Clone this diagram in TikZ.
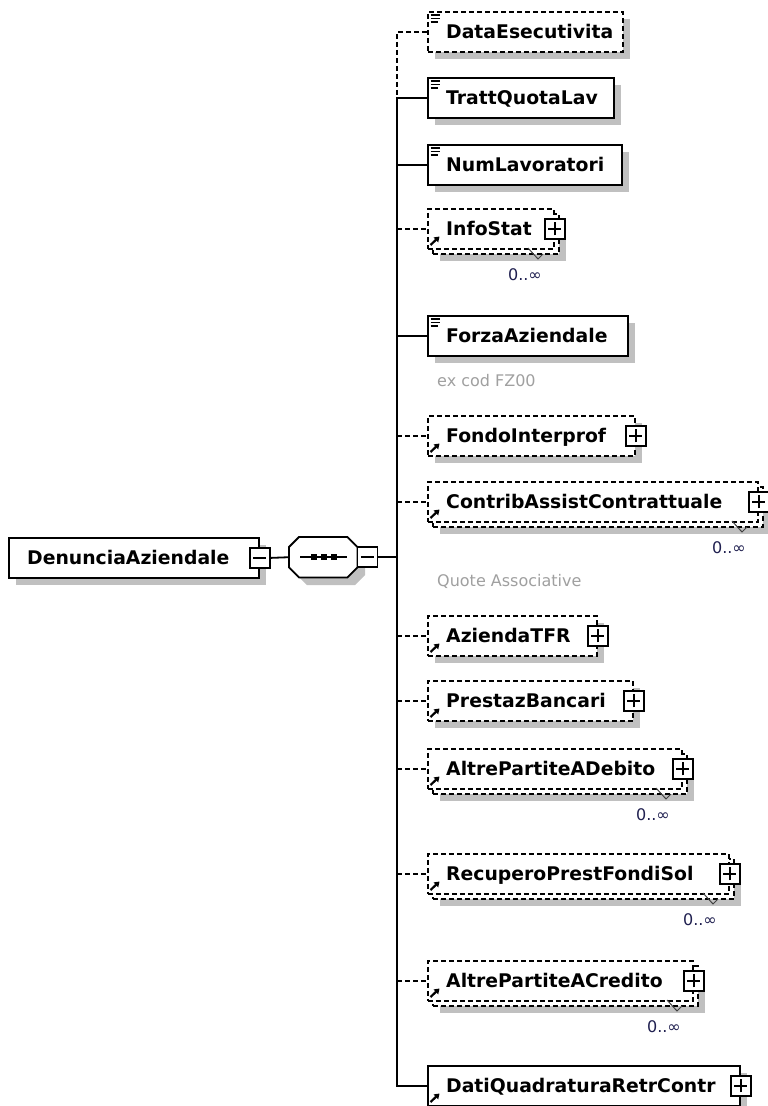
\documentclass[tikz,border=0pt]{standalone}
\usepackage{fontspec}
\setmainfont{DejaVu Sans}
\usetikzlibrary{arrows.meta}
\definecolor{shadowc}{HTML}{C0C0C0}
\definecolor{annot}{HTML}{A0A0A0}
\definecolor{occ}{HTML}{202050}
\tikzset{
  box/.style={draw=black, fill=white, line width=1.8pt, rectangle, inner sep=0pt, minimum height=40pt},
  dashedline/.style={dash pattern=on 5pt off 3pt},
  conn/.style={line width=1.8pt},
  lbl/.style={font=\fontsize{18.8}{20}\selectfont\bfseries, inner sep=0pt, text=black},
  occlbl/.style={font=\fontsize{16}{18}\selectfont, inner sep=0pt, text=occ},
  annlbl/.style={font=\fontsize{16}{18}\selectfont, inner sep=0pt, text=annot},
  pmbox/.style={draw=black, fill=white, line width=1.5pt, rectangle, minimum size=20pt, inner sep=0pt},
  refarrow/.style={line width=2.2pt, -{Triangle[length=5pt,width=6.5pt]}},
  notch/.style={line width=1pt, black!75},
}
% plus / minus boxes
\newcommand\xplus[2]{%
  \node[pmbox] (#1) at (#2) {};
  \draw[line width=1.5pt] ([xshift=-6.5pt]#1.center) -- ([xshift=6.5pt]#1.center);
  \draw[line width=1.5pt] ([yshift=-6.5pt]#1.center) -- ([yshift=6.5pt]#1.center);
}
\newcommand\xminus[2]{%
  \node[pmbox] (#1) at (#2) {};
  \draw[line width=1.5pt] ([xshift=-6.5pt]#1.center) -- ([xshift=6.5pt]#1.center);
}
% simple-type element: name, top, right, label, border style
\newcommand\xsimple[5]{%
  \fill[shadowc] (435,#2+8) rectangle (#3+8,#2+48);
  \node[box,#5,minimum width={#3-427},anchor=north west] (#1) at (427,#2) {};
  \draw[line width=1.2pt] (430.5,#2+4) -- (440,#2+4) (430.5,#2+7.5) -- (440,#2+7.5) (430.5,#2+11) -- (438,#2+11);
  \node[lbl,anchor=base west] (#1-t) at (446,#2+27) {#4};
}
% complex-type element: name, top, right, label, border style
\newcommand\xcomplex[5]{%
  \fill[shadowc] (435,#2+8) rectangle (#3+8,#2+48);
  \node[box,#5,minimum width={#3-427},anchor=north west] (#1) at (427,#2) {};
  \draw[refarrow] (430.5,#2+37) -- (439.5,#2+28.5);
  \node[lbl,anchor=base west] (#1-t) at (446,#2+27) {#4};
  \xplus{#1-p}{#1.east}
}
% optional complex element with multiple occurrences: name, top, right, label
\newcommand\xmulti[4]{%
  \fill[shadowc] (440,#2+13) rectangle (#3+13,#2+53);
  \node[box,dashedline,minimum width={#3-427},anchor=north west] (#1-b) at (432,#2+5) {};
  \node[box,dashedline,minimum width={#3-427},anchor=north west] (#1) at (427,#2) {};
  \draw[notch] (#3-25,#2+40) -- (#3-15,#2+51) -- (#3-10,#2+46);
  \draw[refarrow] (430.5,#2+37) -- (439.5,#2+28.5);
  \node[lbl,anchor=base west] (#1-t) at (446,#2+27) {#4};
  \xplus{#1-p}{#1.east}
  \node[occlbl,anchor=base east] (#1-o) at (#3-11,#2+72) {0..∞};
}
\begin{document}
\begin{tikzpicture}[x=1pt,y=-1pt]
\useasboundingbox[fill=white] (0,0) rectangle (768,1106);

% root element
\fill[shadowc] (16,545) rectangle (266,585);
\node[box,minimum width=250pt,anchor=north west] (root) at (8,537) {};
\node[lbl,anchor=base west] (root-t) at (27,564) {DenunciaAziendale};
\xminus{root-m}{root.east}

% sequence compositor
\fill[shadowc] (307,545) -- (337,545) -- (365,555) -- (365,575) -- (355,585) -- (307,585) -- (297,575) -- (297,555) -- cycle;
\node[rectangle,minimum width=68pt,minimum height=40pt,inner sep=0pt,anchor=north west] (seq) at (289,537) {};
\fill[white,draw=black,line width=1.8pt]
  ([xshift=10pt]seq.north west) -- ([xshift=-10pt]seq.north east) -- ([yshift=-10pt]seq.north east)
  -- ([yshift=10pt]seq.south east) -- ([xshift=-10pt]seq.south east) -- ([xshift=10pt]seq.south west)
  -- ([yshift=10pt]seq.south west) -- ([yshift=-10pt]seq.north west) -- cycle;
\draw[line width=1.6pt] (300,557) -- (347,557);
\fill (310.5,554) rectangle (316.5,560);
\fill (320.5,554) rectangle (326.5,560);
\fill (330.5,554) rectangle (336.5,560);
\xminus{seq-m}{[xshift=10pt]seq.east}

% children
\xsimple{e1}{11}{622}{DataEsecutivita}{dashedline}
\xsimple{e2}{77}{613}{TrattQuotaLav}{solid}
\xsimple{e3}{144}{621}{NumLavoratori}{solid}
\xmulti{e4}{208}{553}{InfoStat}
\xsimple{e5}{315}{627}{ForzaAziendale}{solid}
\node[annlbl,anchor=base west] (a5) at (437,386) {ex cod FZ00};
\xcomplex{e6}{415}{634}{FondoInterprof}{dashedline}
\xmulti{e7}{481}{757}{ContribAssistContrattuale}
\node[annlbl,anchor=base west] (a7) at (437,586) {Quote Associative};
\xcomplex{e8}{615}{596}{AziendaTFR}{dashedline}
\xcomplex{e9}{680}{632}{PrestazBancari}{dashedline}
\xmulti{e10}{748}{681}{AltrePartiteADebito}
\xmulti{e11}{853}{728}{RecuperoPrestFondiSol}
\xmulti{e12}{960}{692}{AltrePartiteACredito}
\xcomplex{e13}{1065}{739}{DatiQuadraturaRetrContr}{solid}

% connectors
\coordinate (sp) at (397,97);
\draw[conn] (root-m.east) -- (seq.west);
\draw[conn] (seq-m.east) -- (seq-m.east -| sp);
\draw[conn,dashedline] (e1.west) -| (sp);
\draw[conn] (sp) |- (e13.west);
\draw[conn] (e2.west -| sp) -- (e2.west);
\draw[conn] (e3.west -| sp) -- (e3.west);
\draw[conn,dashedline] (e4.west -| sp) -- (e4.west);
\draw[conn] (e5.west -| sp) -- (e5.west);
\draw[conn,dashedline] (e6.west -| sp) -- (e6.west);
\draw[conn,dashedline] (e7.west -| sp) -- (e7.west);
\draw[conn,dashedline] (e8.west -| sp) -- (e8.west);
\draw[conn,dashedline] (e9.west -| sp) -- (e9.west);
\draw[conn,dashedline] (e10.west -| sp) -- (e10.west);
\draw[conn,dashedline] (e11.west -| sp) -- (e11.west);
\draw[conn,dashedline] (e12.west -| sp) -- (e12.west);
\end{tikzpicture}
\end{document}
